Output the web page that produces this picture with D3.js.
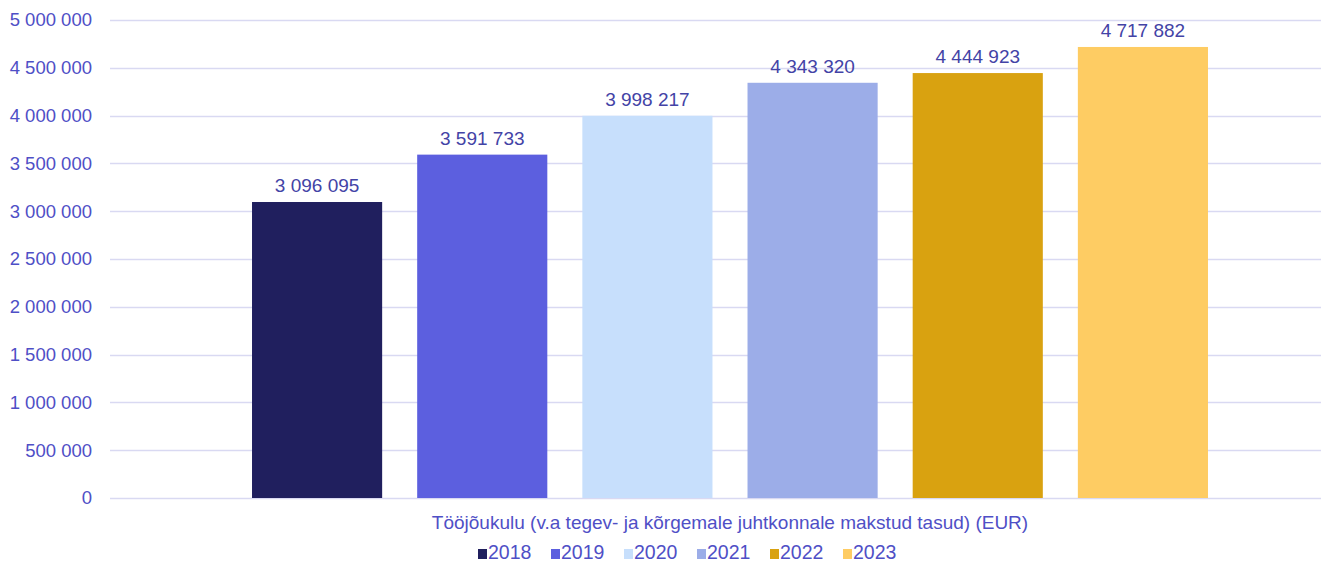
<!DOCTYPE html>
<html>
<head>
<meta charset="utf-8">
<script src="https://cdn.jsdelivr.net/npm/d3@7"></script>
<style>
    body { margin: 0; background: #fff; }
    text { font-family: "Liberation Sans", Arial, sans-serif; }
</style>
</head>
<body>
<div id="chart"></div>
<script>
(function () {
    // data
    var years = ["2018", "2019", "2020", "2021", "2022", "2023"];
    var values = [3096095, 3591733, 3998217, 4343320, 4444923, 4717882];
    var colors = ["#201F5E", "#5C5FDF", "#C7DFFC", "#9CADE8", "#D9A210", "#FECC63"];
    var yTicks = [0, 500000, 1000000, 1500000, 2000000, 2500000, 3000000, 3500000, 4000000, 4500000, 5000000];
    var categoryLabel = "Tööjõukulu (v.a tegev- ja kõrgemale juhtkonnale makstud tasud) (EUR)";

    const width = 1321;
    const height = 562;
    const plot_left = 110;
    const plot_right = 1321;
    const plot_top = 20;
    const plot_bottom = 498;
    const axisColor = "#4F4FC6";
    const gridColor = "#D9D9F2";

    var fmt = function (v) {
        return d3.format(",")(v).replace(/,/g, " ");
    };

    var svg = d3.select('#chart').append('svg')
        .attr('width', width)
        .attr('height', height);

    var y = d3.scaleLinear()
        .domain([0, 5000000])
        .range([plot_bottom, plot_top]);

    var x = d3.scaleBand()
        .domain(years)
        .range([234.5, 1225.5])
        .paddingInner(35 / 165)
        .paddingOuter(17.5 / 165);

    // gridlines
    svg.append('g').selectAll('line').data(yTicks)
        .enter().append('line')
        .attr('x1', plot_left)
        .attr('x2', plot_right)
        .attr('y1', function (d) { return Math.round(y(d)) + 0.5; })
        .attr('y2', function (d) { return Math.round(y(d)) + 0.5; })
        .attr('stroke', gridColor)
        .attr('stroke-width', 1.3);

    // y axis labels
    var yAxis = d3.axisLeft(y)
        .tickValues(yTicks)
        .tickFormat(fmt)
        .tickSize(0)
        .tickPadding(0);

    var yg = svg.append('g')
        .attr('transform', `translate(${92},0)`)
        .call(yAxis);
    yg.select('.domain').remove();
    yg.selectAll('text')
        .attr('fill', axisColor)
        .attr('font-size', '18.5px')
        .attr('font-family', '"Liberation Sans", Arial, sans-serif');

    // bars
    svg.append('g').selectAll('rect').data(years)
        .enter().append('rect')
        .attr('x', function (d) { return x(d); })
        .attr('y', function (d, i) { return y(values[i]); })
        .attr('width', x.bandwidth())
        .attr('height', function (d, i) { return plot_bottom - y(values[i]); })
        .attr('fill', function (d, i) { return colors[i]; });

    // value labels
    svg.append('g').selectAll('text').data(years)
        .enter().append('text')
        .attr('x', function (d) { return x(d) + x.bandwidth() / 2; })
        .attr('y', function (d, i) { return y(values[i]) - 10; })
        .attr('text-anchor', 'middle')
        .attr('fill', '#4343A6')
        .attr('font-size', '19px')
        .text(function (d, i) { return fmt(values[i]); });

    // category label
    svg.append('text')
        .attr('x', 730)
        .attr('y', 529)
        .attr('text-anchor', 'middle')
        .attr('fill', axisColor)
        .attr('font-size', '19px')
        .text(categoryLabel);

    // legend
    var legendX = 478;
    var legendStep = 73;
    var legend = svg.append('g')
        .attr('transform', `translate(${legendX},${549})`);

    legend.selectAll('rect').data(years)
        .enter().append('rect')
        .attr('x', function (d, i) { return i * legendStep; })
        .attr('y', 0)
        .attr('width', 9)
        .attr('height', 10)
        .attr('fill', function (d, i) { return colors[i]; });

    legend.selectAll('text').data(years)
        .enter().append('text')
        .attr('x', function (d, i) { return i * legendStep + 10; })
        .attr('y', 9.5)
        .attr('fill', axisColor)
        .attr('font-size', '19.5px')
        .text(function (d) { return d; });
})();
</script>
</body>
</html>
